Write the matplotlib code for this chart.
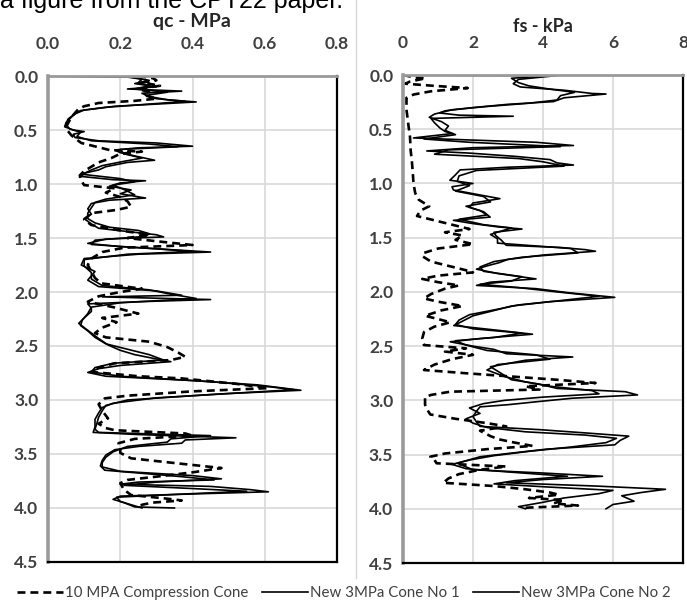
import matplotlib
matplotlib.use("Agg")
import matplotlib.pyplot as plt
from matplotlib.lines import Line2D

# ---- qc (MPa) vs depth ----
depth_qc_10 = [0.00, 0.02, 0.04, 0.06, 0.09, 0.12, 0.15, 0.18, 0.21, 0.23, 0.25, 0.28, 0.31, 0.36, 0.41, 0.47, 0.51, 0.55, 0.59, 0.62,
               0.66, 0.685, 0.70, 0.72, 0.76, 0.80, 0.84, 0.88, 0.92, 0.96, 1.01, 1.04, 1.08, 1.12, 1.16, 1.21, 1.24, 1.27, 1.33, 1.38,
               1.43, 1.47, 1.50, 1.53, 1.565, 1.59, 1.63, 1.69, 1.75, 1.81, 1.87, 1.92, 1.97, 2.00, 2.04, 2.09, 2.14, 2.20, 2.24, 2.28,
               2.33, 2.38, 2.42, 2.46, 2.51, 2.56, 2.60, 2.63, 2.66, 2.70, 2.74, 2.78, 2.80, 2.85, 2.89, 2.92, 2.96, 2.985, 3.04, 3.10,
               3.17, 3.22, 3.26, 3.28, 3.31, 3.33, 3.36, 3.40, 3.45, 3.49, 3.54, 3.58, 3.63, 3.67, 3.71, 3.74, 3.77, 3.83, 3.88, 3.91,
               3.93, 3.95, 3.97, 4.00]
qc_10 = [0.25, 0.29, 0.30, 0.26, 0.31, 0.25, 0.28, 0.27, 0.30, 0.24, 0.14, 0.10, 0.083, 0.07, 0.06, 0.05, 0.055, 0.065, 0.08, 0.092,
         0.14, 0.17, 0.26, 0.20, 0.175, 0.14, 0.12, 0.10, 0.088, 0.09, 0.10, 0.185, 0.16, 0.20, 0.22, 0.23, 0.19, 0.12, 0.10, 0.12,
         0.20, 0.28, 0.22, 0.30, 0.40, 0.21, 0.15, 0.12, 0.11, 0.12, 0.13, 0.148, 0.26, 0.20, 0.14, 0.11, 0.18, 0.25, 0.15, 0.19,
         0.15, 0.13, 0.16, 0.28, 0.33, 0.36, 0.38, 0.34, 0.185, 0.14, 0.12, 0.25, 0.37, 0.52, 0.61, 0.40, 0.22, 0.157, 0.14, 0.15,
         0.166, 0.14, 0.16, 0.185, 0.38, 0.40, 0.24, 0.195, 0.20, 0.20, 0.23, 0.34, 0.48, 0.40, 0.30, 0.22, 0.20, 0.21, 0.23, 0.32,
         0.37, 0.29, 0.26, 0.25]

depth_qc_1 = [0.00, 0.01, 0.04, 0.07, 0.10, 0.12, 0.14, 0.16, 0.19, 0.22, 0.24, 0.26, 0.28, 0.315, 0.35, 0.38, 0.43, 0.47, 0.50, 0.515,
              0.54, 0.57, 0.60, 0.62, 0.65, 0.665, 0.685, 0.71, 0.74, 0.78, 0.80, 0.84, 0.87, 0.90, 0.93, 0.96, 0.97, 0.99, 1.02, 1.055,
              1.09, 1.13, 1.15, 1.18, 1.23, 1.28, 1.32, 1.37, 1.41, 1.44, 1.47, 1.49, 1.51, 1.55, 1.58, 1.61, 1.63, 1.65, 1.69, 1.75,
              1.81, 1.85, 1.89, 1.95, 1.99, 2.03, 2.045, 2.07, 2.09, 2.11, 2.15, 2.18, 2.24, 2.29, 2.33, 2.38, 2.43, 2.49, 2.54, 2.58,
              2.62, 2.645, 2.68, 2.71, 2.745, 2.78, 2.82, 2.86, 2.91, 2.94, 2.98, 3.03, 3.07, 3.12, 3.18, 3.25, 3.30, 3.32, 3.35, 3.37,
              3.40, 3.43, 3.46, 3.51, 3.56, 3.61, 3.65, 3.69, 3.71, 3.74, 3.76, 3.78, 3.80, 3.83, 3.85, 3.87, 3.89, 3.92, 3.95, 3.99, 4.00]
qc_1 = [0.00, 0.23, 0.28, 0.24, 0.30, 0.22, 0.37, 0.26, 0.28, 0.33, 0.41, 0.30, 0.185, 0.10, 0.075, 0.065, 0.05, 0.046, 0.07, 0.10,
        0.07, 0.075, 0.14, 0.30, 0.40, 0.25, 0.185, 0.20, 0.24, 0.295, 0.22, 0.16, 0.14, 0.10, 0.092, 0.18, 0.27, 0.20, 0.17, 0.23,
        0.20, 0.27, 0.17, 0.12, 0.11, 0.12, 0.10, 0.12, 0.14, 0.22, 0.30, 0.32, 0.16, 0.11, 0.20, 0.35, 0.45, 0.25, 0.10, 0.092,
        0.13, 0.12, 0.11, 0.14, 0.30, 0.37, 0.15, 0.45, 0.25, 0.11, 0.12, 0.12, 0.10, 0.085, 0.10, 0.12, 0.14, 0.166, 0.20, 0.24,
        0.30, 0.34, 0.20, 0.14, 0.11, 0.16, 0.40, 0.58, 0.70, 0.50, 0.30, 0.18, 0.15, 0.14, 0.13, 0.13, 0.125, 0.25, 0.52, 0.38,
        0.37, 0.25, 0.185, 0.16, 0.15, 0.145, 0.157, 0.30, 0.37, 0.46, 0.25, 0.20, 0.45, 0.56, 0.61, 0.40, 0.20, 0.18, 0.21, 0.24, 0.35]

depth_qc_2 = [0.00, 0.01, 0.03, 0.06, 0.09, 0.12, 0.15, 0.18, 0.21, 0.235, 0.26, 0.29, 0.32, 0.36, 0.40, 0.45, 0.49, 0.52, 0.56, 0.60,
              0.63, 0.655, 0.68, 0.72, 0.76, 0.79, 0.83, 0.87, 0.91, 0.95, 0.98, 1.01, 1.05, 1.10, 1.14, 1.17, 1.22, 1.27, 1.32, 1.36,
              1.40, 1.43, 1.46, 1.485, 1.52, 1.56, 1.60, 1.625, 1.65, 1.70, 1.76, 1.82, 1.88, 1.94, 1.98, 2.02, 2.06, 2.10, 2.14, 2.20,
              2.26, 2.31, 2.36, 2.42, 2.48, 2.53, 2.58, 2.63, 2.66, 2.70, 2.74, 2.78, 2.83, 2.88, 2.905, 2.95, 3.00, 3.05, 3.10, 3.16,
              3.22, 3.27, 3.30, 3.33, 3.36, 3.39, 3.43, 3.48, 3.53, 3.58, 3.62, 3.66, 3.70, 3.73, 3.76, 3.79, 3.82, 3.845, 3.87, 3.90,
              3.94, 3.97, 4.00]
qc_2 = [0.00, 0.22, 0.26, 0.25, 0.28, 0.24, 0.33, 0.27, 0.30, 0.38, 0.28, 0.16, 0.09, 0.07, 0.055, 0.05, 0.06, 0.09, 0.08, 0.12,
        0.28, 0.36, 0.20, 0.21, 0.26, 0.21, 0.15, 0.12, 0.095, 0.20, 0.24, 0.18, 0.21, 0.24, 0.16, 0.13, 0.12, 0.11, 0.11, 0.13,
        0.17, 0.25, 0.28, 0.27, 0.13, 0.12, 0.30, 0.40, 0.22, 0.10, 0.10, 0.12, 0.12, 0.15, 0.28, 0.34, 0.41, 0.20, 0.12, 0.11,
        0.095, 0.09, 0.11, 0.13, 0.16, 0.22, 0.28, 0.32, 0.18, 0.13, 0.12, 0.20, 0.45, 0.62, 0.68, 0.45, 0.22, 0.16, 0.15, 0.14,
        0.135, 0.13, 0.14, 0.45, 0.34, 0.33, 0.22, 0.18, 0.16, 0.15, 0.15, 0.20, 0.40, 0.48, 0.30, 0.21, 0.40, 0.55, 0.38, 0.19,
        0.20, 0.23, 0.26]

# ---- fs (kPa) vs depth ----
depth_fs_10 = [0.00, 0.02, 0.03, 0.06, 0.08, 0.10, 0.12, 0.15, 0.18, 0.21, 0.32, 0.45, 0.57, 0.70, 0.78, 0.90, 1.00, 1.09, 1.15, 1.21,
               1.25, 1.30, 1.34, 1.38, 1.42, 1.45, 1.48, 1.52, 1.56, 1.60, 1.64, 1.67, 1.72, 1.76, 1.80, 1.82, 1.85, 1.88, 1.91, 1.94,
               1.97, 2.02, 2.06, 2.09, 2.13, 2.17, 2.22, 2.25, 2.28, 2.32, 2.37, 2.43, 2.49, 2.52, 2.55, 2.58, 2.62, 2.67, 2.72, 2.75,
               2.78, 2.81, 2.84, 2.87, 2.90, 2.92, 2.95, 2.97, 3.04, 3.09, 3.13, 3.17, 3.21, 3.24, 3.28, 3.33, 3.36, 3.39, 3.42, 3.45,
               3.49, 3.52, 3.55, 3.58, 3.61, 3.64, 3.68, 3.72, 3.76, 3.79, 3.82, 3.85, 3.87, 3.90, 3.92, 3.95, 3.97, 3.99]
fs_10 = [0.0, 0.3, 0.65, 0.2, 0.07, 0.9, 1.85, 0.8, 0.3, 0.1, 0.1, 0.15, 0.2, 0.22, 0.25, 0.28, 0.3, 0.35, 0.45, 0.75,
         0.5, 0.4, 0.9, 1.4, 1.9, 1.2, 1.7, 1.5, 2.0, 1.0, 0.6, 0.55, 0.8, 1.3, 1.8, 2.0, 1.0, 0.55, 1.0, 1.6,
         1.2, 0.8, 0.6, 1.0, 1.7, 1.1, 0.63, 1.0, 1.35, 0.9, 0.6, 0.55, 0.6, 1.8, 1.2, 2.0, 1.4, 0.9, 0.6, 1.8,
         3.1, 4.4, 5.5, 3.5, 3.9, 1.35, 0.8, 0.63, 0.63, 0.7, 0.78, 1.5, 2.4, 2.95, 2.2, 2.5, 2.75, 3.2, 3.7, 2.4,
         1.2, 0.78, 0.9, 0.96, 2.95, 2.2, 1.6, 1.3, 1.15, 2.6, 3.5, 4.2, 4.45, 3.6, 4.6, 4.3, 5.0, 3.5]

depth_fs_1 = [0.00, 0.005, 0.04, 0.08, 0.11, 0.14, 0.17, 0.175, 0.21, 0.245, 0.27, 0.30, 0.33, 0.35, 0.37, 0.38, 0.40, 0.44, 0.49, 0.52,
              0.54, 0.58, 0.60, 0.62, 0.65, 0.67, 0.70, 0.72, 0.75, 0.78, 0.81, 0.83, 0.85, 0.875, 0.92, 0.97, 1.00, 1.03, 1.06, 1.10,
              1.14, 1.18, 1.22, 1.26, 1.31, 1.34, 1.37, 1.40, 1.42, 1.45, 1.48, 1.52, 1.57, 1.59, 1.61, 1.625, 1.66, 1.70, 1.73, 1.76,
              1.79, 1.83, 1.88, 1.91, 1.94, 1.97, 2.01, 2.05, 2.09, 2.13, 2.18, 2.22, 2.27, 2.31, 2.35, 2.39, 2.43, 2.46, 2.50, 2.53,
              2.57, 2.60, 2.63, 2.69, 2.75, 2.81, 2.85, 2.89, 2.92, 2.95, 2.98, 3.01, 3.04, 3.06, 3.10, 3.15, 3.20, 3.24, 3.27, 3.30,
              3.33, 3.37, 3.41, 3.45, 3.49, 3.52, 3.58, 3.64, 3.67, 3.70, 3.73, 3.76, 3.79, 3.82, 3.85, 3.88, 3.93, 3.96, 4.00]
fs_1 = [0.0, 4.4, 3.3, 3.15, 3.35, 4.6, 5.4, 5.8, 4.6, 4.3, 3.0, 2.0, 1.2, 1.05, 1.6, 3.15, 0.8, 0.9, 1.06, 1.2,
        1.4, 0.3, 2.0, 3.8, 4.87, 2.0, 0.68, 1.9, 3.2, 4.2, 4.4, 4.87, 3.0, 1.63, 1.5, 1.34, 2.0, 1.4, 1.44, 2.1,
        2.77, 2.0, 1.9, 2.3, 2.49, 1.44, 2.0, 2.7, 3.4, 2.6, 2.65, 2.8, 2.95, 4.5, 5.2, 5.5, 4.0, 3.0, 2.75, 2.4,
        2.1, 2.7, 3.8, 2.5, 2.1, 3.8, 4.8, 6.05, 4.2, 3.1, 2.5, 2.0, 1.7, 1.45, 2.6, 3.7, 2.2, 1.35, 2.0, 2.6,
        2.95, 4.85, 3.5, 2.5, 2.8, 3.1, 3.9, 4.4, 6.35, 6.7, 4.85, 3.9, 3.0, 2.2, 2.1, 2.0, 2.1, 2.2, 3.9, 5.2,
        6.45, 6.2, 6.05, 4.1, 3.0, 2.2, 1.55, 2.0, 4.0, 5.7, 4.0, 2.95, 5.5, 7.5, 6.8, 6.25, 6.6, 6.0, 5.8]

depth_fs_2 = [0.00, 0.005, 0.03, 0.07, 0.10, 0.13, 0.16, 0.19, 0.23, 0.26, 0.29, 0.32, 0.36, 0.39, 0.43, 0.47, 0.51, 0.55, 0.59, 0.62,
              0.66, 0.69, 0.73, 0.77, 0.80, 0.84, 0.88, 0.93, 0.98, 1.02, 1.07, 1.12, 1.17, 1.21, 1.25, 1.29, 1.33, 1.38, 1.41, 1.44,
              1.47, 1.51, 1.55, 1.60, 1.64, 1.68, 1.72, 1.77, 1.81, 1.86, 1.90, 1.93, 1.96, 2.00, 2.04, 2.08, 2.12, 2.16, 2.21, 2.26,
              2.30, 2.34, 2.38, 2.42, 2.45, 2.49, 2.54, 2.58, 2.62, 2.67, 2.72, 2.78, 2.83, 2.87, 2.91, 2.94, 2.97, 3.00, 3.03, 3.07,
              3.12, 3.17, 3.21, 3.25, 3.29, 3.32, 3.35, 3.39, 3.43, 3.47, 3.51, 3.55, 3.59, 3.63, 3.66, 3.70, 3.74, 3.77, 3.80, 3.83,
              3.86, 3.90, 3.94, 3.98, 4.00]
fs_2 = [0.0, 4.2, 3.1, 3.3, 3.6, 4.2, 4.9, 4.5, 4.4, 3.6, 2.4, 1.4, 0.9, 0.75, 1.1, 1.3, 1.2, 1.5, 0.6, 1.9,
        4.5, 1.3, 0.9, 3.3, 4.0, 4.6, 2.1, 1.6, 1.55, 1.9, 1.5, 2.3, 2.5, 1.8, 2.2, 2.4, 1.6, 2.3, 3.1, 2.8,
        2.5, 2.7, 2.7, 4.8, 5.0, 3.4, 2.6, 2.2, 2.3, 3.4, 3.1, 2.2, 3.3, 4.4, 5.6, 4.5, 3.3, 2.7, 1.9, 1.6,
        1.5, 2.0, 3.4, 2.6, 1.5, 1.8, 2.4, 3.8, 4.2, 2.7, 2.4, 2.9, 3.5, 4.2, 5.4, 5.6, 4.0, 2.9, 2.3, 1.9,
        2.2, 1.8, 2.0, 2.4, 3.5, 5.2, 6.1, 5.8, 4.8, 3.6, 2.6, 1.9, 1.4, 1.8, 3.0, 4.7, 3.2, 2.6, 4.2, 6.0,
        5.6, 4.6, 4.0, 3.3, 3.5]

depth_ticks = [0.0, 0.5, 1.0, 1.5, 2.0, 2.5, 3.0, 3.5, 4.0, 4.5]
qc_ticks = [0.0, 0.2, 0.4, 0.6, 0.8]
fs_ticks = [0, 2, 4, 6, 8]

labels = ["10 MPA Compression Cone", "New 3MPa Cone No 1", "New 3MPa Cone No 2"]

FONT = ["Lato", "DejaVu Sans"]
TXT = "#404040"
GRID = "#d9d9d9"
dash_style = dict(color="black", lw=1.9, linestyle=(0, (3, 1.9)))
solid_style = dict(color="black", lw=1.2)

fig = plt.figure(figsize=(6.87, 6.10), dpi=100)

def setup_panel(ax, xticks, fmt, xmax):
    ax.set_xlim(0, xmax)
    ax.set_ylim(4.5, 0)
    ax.xaxis.tick_top()
    ax.set_xticks(xticks)
    ax.set_xticklabels([fmt.format(t) for t in xticks])
    ax.set_yticks(depth_ticks)
    ax.set_yticklabels([f"{t:.1f}" for t in depth_ticks])
    ax.tick_params(length=0, labelsize=12.5, labelcolor=TXT)
    ax.tick_params(axis="y", pad=7)
    ax.tick_params(axis="x", pad=17)
    for lab in ax.get_xticklabels() + ax.get_yticklabels():
        lab.set_fontfamily(FONT)
        lab.set_fontweight("bold")
    ax.grid(True, color=GRID, lw=1.2)
    ax.set_axisbelow(True)
    ax.spines["left"].set_color("#9a9a9a")
    ax.spines["left"].set_linewidth(2.6)
    ax.spines["top"].set_color("#9a9a9a")
    ax.spines["top"].set_linewidth(2.0)
    ax.spines["right"].set_color("black")
    ax.spines["right"].set_linewidth(1.6)
    ax.spines["bottom"].set_color("black")
    ax.spines["bottom"].set_linewidth(1.6)

# left panel: qc
ax1 = fig.add_axes([0.0699, 0.0787, 0.4207, 0.7967])
ax1.plot(qc_1, depth_qc_1, **solid_style)
ax1.plot(qc_2, depth_qc_2, **solid_style)
ax1.plot(qc_10, depth_qc_10, **dash_style)
setup_panel(ax1, qc_ticks, "{:.1f}", 0.8)

# right panel: fs
ax2 = fig.add_axes([0.5866, 0.0770, 0.4076, 0.8000])
ax2.plot(fs_1, depth_fs_1, **solid_style)
ax2.plot(fs_2, depth_fs_2, **solid_style)
ax2.plot(fs_10, depth_fs_10, **dash_style)
setup_panel(ax2, fs_ticks, "{:d}", 8)

fig.text(192 / 687, 1 - 21 / 610, "qc - MPa", ha="center", va="center", fontsize=14,
         fontweight="bold", color="#262626", family=FONT)
fig.text(543 / 687, 1 - 27 / 610, "fs - kPa", ha="center", va="center", fontsize=13,
         fontweight="bold", color="#262626", family=FONT)

# caption cut off at the top of the picture
fig.text(0.0, 1 - 8 / 610, "a figure from the CPT22 paper.", ha="left", va="baseline",
         fontsize=18, color="black", family=["Liberation Sans", "DejaVu Sans"])

# separator between the two panels
fig.add_artist(Line2D([356 / 687, 356 / 687], [1 - 578 / 610, 1.0], color=GRID, lw=1.0))

handles = [Line2D([], [], **dash_style), Line2D([], [], **solid_style), Line2D([], [], **solid_style)]
leg = fig.legend(handles, labels, loc="center", bbox_to_anchor=(0.5, 1 - 593 / 610), ncol=3,
                 frameon=False, handlelength=3.1, handletextpad=0.1, columnspacing=0.9,
                 prop={"family": FONT, "size": 10.8})
for t in leg.get_texts():
    t.set_color(TXT)

fig.savefig("out.png", dpi=100)
